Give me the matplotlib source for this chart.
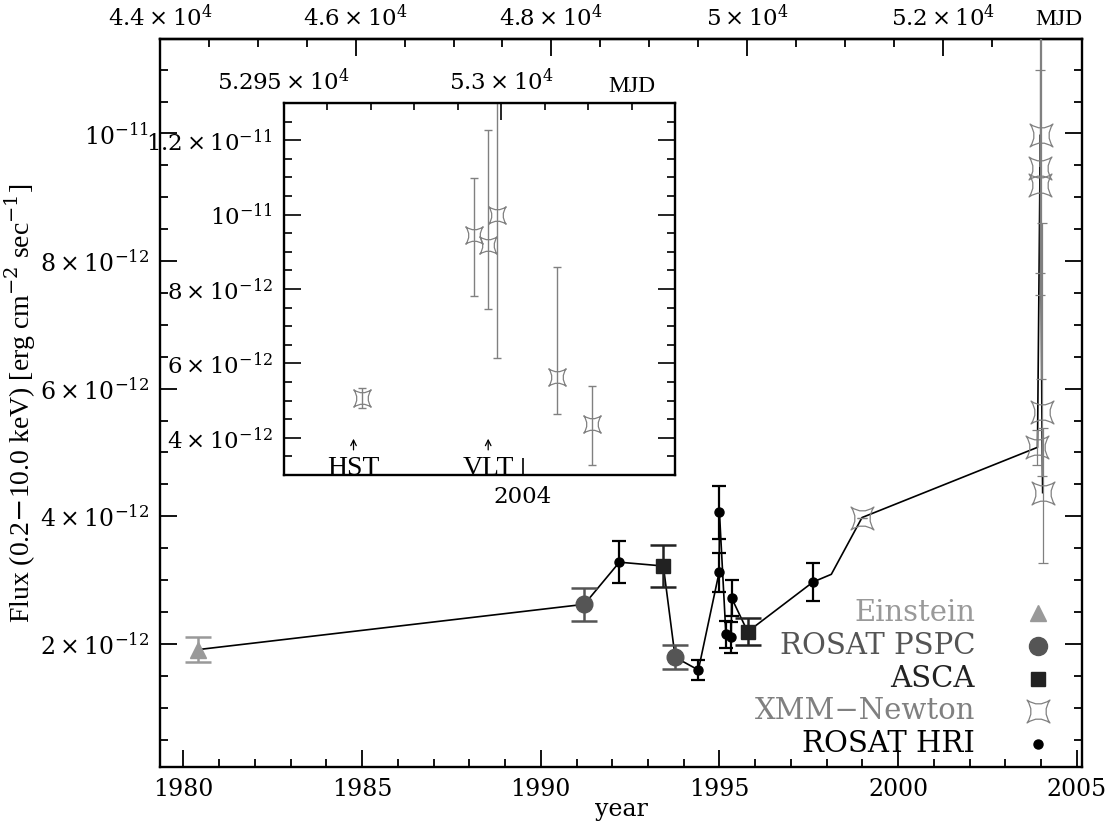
import numpy as np
import matplotlib
matplotlib.use("Agg")
import matplotlib.pyplot as plt
from matplotlib.path import Path

# flux values in units of 1e-12 erg cm^-2 s^-1
ein_year = [1980.41]
ein_flux = [1.91]
ein_err = [0.20]

pspc_year = [1991.22, 1993.76]
pspc_flux = [2.62, 1.79]
pspc_err = [0.26, 0.19]

asca_year = [1993.43, 1995.79]
asca_flux = [3.22, 2.19]
asca_err = [0.33, 0.21]

hri_year = [1992.20, 1994.41, 1994.99, 1995.00, 1995.18, 1995.33, 1995.34, 1997.62]
hri_flux = [3.28, 1.59, 3.12, 4.06, 2.15, 2.10, 2.72, 2.97]
hri_err = [0.33, 0.16, 0.31, 0.41, 0.21, 0.25, 0.28, 0.30]

# a light-curve vertex with no symbol
extra_year = [1998.13]
extra_flux = [3.09]

xmm_mjd = [51175, 52968.0, 52993.8, 52996.9, 52999.0, 53012.8, 53020.8]
xmm_flux = [3.98, 5.08, 9.46, 9.19, 9.98, 5.64, 4.37]
xmm_lo = [0.0, 0.27, 1.64, 1.73, 3.83, 1.01, 1.10]
xmm_hi = [0.0, 0.27, 1.53, 3.08, 3.85, 2.95, 1.02]

hst_mjd = 52966
vlt_mjd = 52997

legend_labels = ["Einstein", "ROSAT PSPC", "ASCA", "XMM\u2212Newton", "ROSAT HRI"]


def yr2mjd(y):
    return 44239 + (np.asarray(y, dtype=float) - 1980.0) * 365.25


plt.rcParams["font.family"] = ["DejaVu Serif"]
plt.rcParams["mathtext.fontset"] = "dejavuserif"

C_EIN, C_PSPC, C_ASCA, C_XMM, C_HRI = "#999999", "#555555", "#222222", "#808080", "black"

star = Path([(-1, 1), (0, 0.3), (1, 1), (0.3, 0), (1, -1), (0, -0.3), (-1, -1), (-0.3, 0), (-1, 1), (-1, 1)],
            [Path.MOVETO, Path.CURVE3, Path.CURVE3, Path.CURVE3, Path.CURVE3,
             Path.CURVE3, Path.CURVE3, Path.CURVE3, Path.CURVE3, Path.CLOSEPOLY])

W, H = 1112, 823
fig = plt.figure(figsize=(W / 100, H / 100), dpi=100)
ax = fig.add_axes([160 / W, (H - 767) / H, 922 / W, 728 / H])

# connecting line through all measurements in time order
lx = np.concatenate([yr2mjd(ein_year), yr2mjd(pspc_year), yr2mjd(asca_year), yr2mjd(hri_year),
                     yr2mjd(extra_year), xmm_mjd])
ly = np.concatenate([ein_flux, pspc_flux, asca_flux, hri_flux, extra_flux, xmm_flux])
o = np.argsort(lx, kind="stable")
ax.plot(lx[o], ly[o], "-", color="black", lw=1.2, zorder=2)

ax.errorbar(yr2mjd(ein_year), ein_flux, yerr=ein_err, fmt="^", ms=11, color=C_EIN,
            elinewidth=1.8, capsize=9.5, capthick=1.8, zorder=3)
ax.errorbar(yr2mjd(pspc_year), pspc_flux, yerr=pspc_err, fmt="o", ms=12, color=C_PSPC,
            elinewidth=1.8, capsize=9.5, capthick=1.8, zorder=3)
ax.errorbar(yr2mjd(asca_year), asca_flux, yerr=asca_err, fmt="s", ms=10, color=C_ASCA,
            elinewidth=1.8, capsize=9.5, capthick=1.8, zorder=3)
ax.errorbar(yr2mjd(hri_year), hri_flux, yerr=hri_err, fmt="o", ms=6.5, color=C_HRI,
            elinewidth=1.6, capsize=4.8, capthick=1.6, zorder=4)
ax.errorbar(xmm_mjd, xmm_flux, yerr=[xmm_lo, xmm_hi], fmt="none", ecolor=C_XMM,
            elinewidth=0.9, capsize=3.6, capthick=0.9, zorder=3)
ax.plot(xmm_mjd, xmm_flux, ls="none", marker=star, ms=16.5, mfc="none", mec=C_XMM, mew=0.9, zorder=3)

ax.set_xlim(44000, 53423)
ax.set_ylim(0.07, 11.48)

years = np.arange(1980, 2006)
ax.set_xticks(yr2mjd(years[::5]))
ax.set_xticklabels([str(y) for y in years[::5]])
ax.set_xticks(yr2mjd(years), minor=True)
ax.set_yticks([2, 4, 6, 8, 10])
ax.set_yticklabels([r"$2\times10^{-12}$", r"$4\times10^{-12}$", r"$6\times10^{-12}$",
                    r"$8\times10^{-12}$", r"$10^{-11}$"])
ax.set_yticks(np.arange(0.5, 11.5, 0.5), minor=True)
ax.tick_params(which="both", direction="in", top=False, right=True, labelsize=17, width=1.3)
ax.tick_params(which="major", length=12, pad=8)
ax.tick_params(which="minor", length=6)
for s in ax.spines.values():
    s.set_linewidth(1.7)

top = ax.secondary_xaxis("top")
top.set_xticks([44000, 46000, 48000, 50000, 52000])
top.set_xticklabels([r"$4.4\times10^{4}$", r"$4.6\times10^{4}$", r"$4.8\times10^{4}$",
                     r"$5\times10^{4}$", r"$5.2\times10^{4}$"])
top.set_xticks(np.arange(44000, 53500, 500), minor=True)
top.tick_params(which="both", direction="in", labelsize=16.5, width=1.3)
top.tick_params(which="major", length=12, pad=6)
top.tick_params(which="minor", length=6)
top.spines["top"].set_linewidth(1.7)
ax.text(1.0, 1.012, "MJD", transform=ax.transAxes, ha="right", va="bottom",
        fontsize=17, family="Liberation Serif")

ax.set_xlabel("year", fontsize=17, labelpad=-2)
ax.set_ylabel(r"Flux (0.2$-$10.0 keV) [erg cm$^{-2}$ sec$^{-1}$]", fontsize=20,
              family="Liberation Serif")
ax.yaxis.set_label_coords(-0.132, 0.5)

# legend drawn by hand: right-aligned labels, symbols on the right
leg_colors = [C_EIN, C_PSPC, C_ASCA, C_XMM, C_HRI]
leg_marks = [dict(marker="^", ms=11, color=C_EIN), dict(marker="o", ms=13, color=C_PSPC),
             dict(marker="s", ms=10, color=C_ASCA),
             dict(marker=star, ms=16.5, mfc="none", mec=C_XMM, mew=0.9),
             dict(marker="o", ms=6.5, color=C_HRI)]
for i, (lab, c, mk) in enumerate(zip(legend_labels, leg_colors, leg_marks)):
    yy = 0.2115 - i * 0.0450
    ax.text(0.884, yy, lab, transform=ax.transAxes, ha="right", va="center", fontsize=21, color=c)
    ax.plot([0.952], [yy], ls="none", transform=ax.transAxes, clip_on=False, **mk)

# inset: XMM-Newton 2003/2004 zoom
ax2 = fig.add_axes([284 / W, (H - 475) / H, 391 / W, 372 / H])
ax2.errorbar(xmm_mjd[1:], xmm_flux[1:], yerr=[xmm_lo[1:], xmm_hi[1:]], fmt="none", ecolor=C_XMM,
             elinewidth=1.0, capsize=2.6, capthick=1.0)
ax2.plot(xmm_mjd[1:], xmm_flux[1:], ls="none", marker=star, ms=12.5, mfc="none", mec=C_XMM, mew=0.9)
ax2.set_xlim(52950, 53040)
ax2.set_ylim(3.0, 13.0)
ax2.set_xticks([yr2mjd(2004)])
ax2.set_xticklabels(["2004"])
ax2.set_yticks([4, 6, 8, 10, 12])
ax2.set_yticklabels([r"$4\times10^{-12}$", r"$6\times10^{-12}$", r"$8\times10^{-12}$",
                     r"$10^{-11}$", r"$1.2\times10^{-11}$"])
ax2.set_yticks(np.arange(3.5, 13.0, 0.5), minor=True)
ax2.tick_params(which="both", direction="in", right=True, labelsize=16.5, width=1.2)
ax2.tick_params(which="major", length=12, pad=8)
ax2.tick_params(which="minor", length=6)
for s in ax2.spines.values():
    s.set_linewidth(1.7)
top2 = ax2.secondary_xaxis("top")
top2.set_xticks([52950, 53000])
top2.set_xticklabels([r"$5.295\times10^{4}$", r"$5.3\times10^{4}$"])
top2.set_xticks(np.arange(52960, 53040, 10), minor=True)
top2.tick_params(which="both", direction="in", labelsize=16.5, width=1.2)
top2.tick_params(which="major", length=12, pad=6)
top2.tick_params(which="minor", length=5)
ax2.text(0.89, 1.015, "MJD", transform=ax2.transAxes, ha="center", va="bottom",
         fontsize=17, family="Liberation Serif")
for m, lab in [(hst_mjd, "HST"), (vlt_mjd, "VLT")]:
    ax2.annotate("", xy=(m, 4.05), xytext=(m, 3.6),
                 arrowprops=dict(arrowstyle="->", color="black", lw=0.9))
    ax2.text(m, 3.0, lab, ha="center", va="baseline", fontsize=20, family="Liberation Serif")

fig.savefig("out.png", dpi=100)
